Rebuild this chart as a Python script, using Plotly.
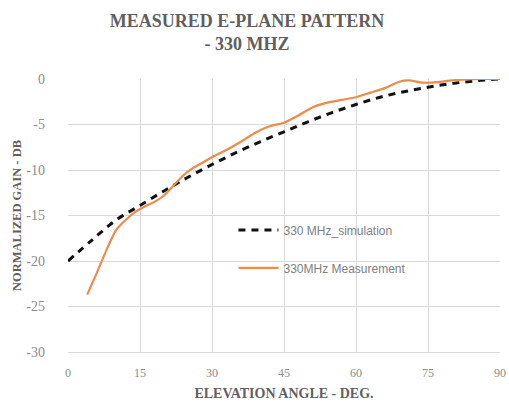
import plotly.graph_objects as go

# Simulated E-plane pattern at 330 MHz (elevation deg, normalized gain dB)
sim_angle = [0, 5, 10, 15, 20, 25, 30, 35, 40, 45, 50, 55, 60, 65, 70, 75, 80, 85, 90]
sim_gain = [-20, -17.7, -15.5, -13.9, -12.3, -10.8, -9.4, -8.1, -6.9, -5.8,
            -4.7, -3.7, -2.8, -2.0, -1.4, -0.9, -0.5, -0.2, 0]

# Measured E-plane pattern at 330 MHz
meas_angle = [4, 6, 8, 10, 12, 14, 16, 18, 20, 22, 24, 26, 28, 30, 33, 36, 39, 42,
              45, 48, 51, 54, 57, 60, 63, 66, 69, 71, 74, 77, 80, 83, 86, 90]
meas_gain = [-23.7, -21.3, -18.8, -16.6, -15.5, -14.6, -14.0, -13.5, -12.8, -11.7,
             -10.6, -9.8, -9.2, -8.6, -7.8, -6.9, -5.9, -5.2, -4.8, -4.0, -3.1,
             -2.6, -2.3, -2.0, -1.5, -1.0, -0.3, -0.15, -0.4, -0.35, -0.15, -0.05, 0, 0]

x_ticks = [0, 15, 30, 45, 60, 75, 90]
y_ticks = [0, -5, -10, -15, -20, -25, -30]

SERIF = "Liberation Serif"
GRAY = "#5f5f5f"
TICK_GRAY = "#8c8c8c"

fig = go.Figure()
fig.add_trace(go.Scatter(
    x=sim_angle, y=sim_gain, mode="lines", name="330 MHz_simulation",
    line=dict(color="#111111", width=3, dash="7px,6px", shape="spline"),
    legend="legend",
))
fig.add_trace(go.Scatter(
    x=meas_angle, y=meas_gain, mode="lines", name="330MHz Measurement",
    line=dict(color="#EE8A4A", width=2.2, shape="spline", smoothing=0.6),
    legend="legend2",
))

legend_style = dict(
    bgcolor="rgba(0,0,0,0)",
    font=dict(family="Liberation Sans", size=12, color="#808080"),
    xanchor="left", yanchor="middle", itemwidth=40,
)

fig.update_layout(
    width=509, height=401,
    margin=dict(l=68, r=9, t=79, b=49, autoexpand=False),
    paper_bgcolor="white", plot_bgcolor="white",
    title=dict(
        text="MEASURED E-PLANE PATTERN<br>- 330 MHZ",
        x=247 / 509, xanchor="center",
        yref="container", y=1 - 27 / 401, yanchor="middle",
        font=dict(family=SERIF, size=18, color=GRAY, weight="bold"),
    ),
    legend=dict(x=0.383, y=0.447, **legend_style),
    legend2=dict(x=0.383, y=0.308, **legend_style),
    showlegend=True,
)

fig.update_xaxes(
    range=[0, 90], tickvals=x_ticks, ticktext=[str(v) for v in x_ticks],
    showgrid=True, gridcolor="#d9d9d9", gridwidth=1, zeroline=False,
    showline=True, linecolor="#d9d9d9", automargin=False,
    tickfont=dict(family=SERIF, size=12, color=TICK_GRAY), ticks="",
    ticklabelstandoff=10,
    title=dict(text="ELEVATION ANGLE - DEG.", standoff=12,
               font=dict(family=SERIF, size=14, color=GRAY, weight="bold")),
)
fig.update_yaxes(
    range=[-30, 0], tickvals=y_ticks, ticktext=[str(v) for v in y_ticks],
    showgrid=True, gridcolor="#d9d9d9", gridwidth=1, zeroline=False,
    automargin=False,
    tickfont=dict(family=SERIF, size=14, color=TICK_GRAY), ticks="",
    ticklabelstandoff=22,
    title=dict(text="NORMALIZED GAIN - DB", standoff=1,
               font=dict(family=SERIF, size=12.5, color=GRAY, weight="bold")),
)

fig.write_html("out.html")
